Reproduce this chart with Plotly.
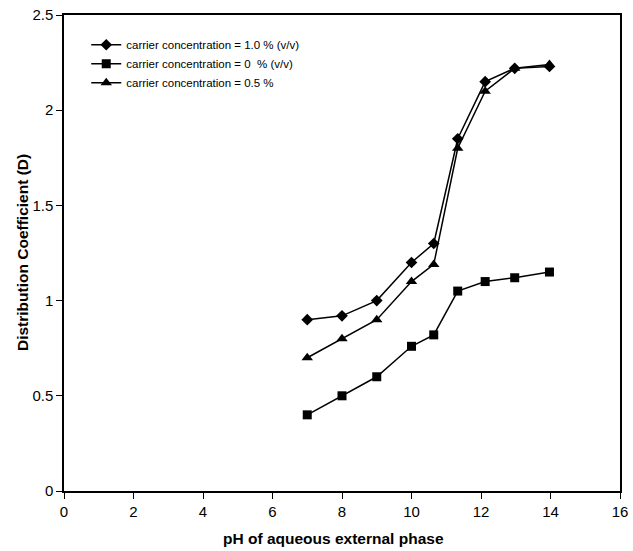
import plotly.graph_objects as go

ph = [7, 8, 9, 10, 10.64, 11.33, 12.12, 12.97, 13.97]
d_10 = [0.90, 0.92, 1.00, 1.20, 1.30, 1.85, 2.15, 2.22, 2.23]
d_0 = [0.40, 0.50, 0.60, 0.76, 0.82, 1.05, 1.10, 1.12, 1.15]
d_05 = [0.70, 0.80, 0.90, 1.10, 1.19, 1.80, 2.10, 2.22, 2.24]

names = ["carrier concentration = 1.0 % (v/v)",
         "carrier concentration = 0  % (v/v)",
         "carrier concentration = 0.5 %"]
series = [d_10, d_0, d_05]
symbols = ["diamond", "square", "triangle-up"]
sizes = [9, 9, 10]

fig = go.Figure()
for n, s, sym, sz in zip(names, series, symbols, sizes):
    fig.add_trace(go.Scatter(
        x=ph, y=s, name=n, mode="lines+markers",
        line=dict(color="black", width=1.5),
        marker=dict(symbol=sym, size=sz, color="black"),
    ))

axis_common = dict(
    showline=True, linecolor="black", linewidth=1.5, mirror=True,
    ticks="outside", ticklen=6, tickwidth=1.2, tickcolor="black",
    showgrid=False, zeroline=False, automargin=False,
    tickfont=dict(family="Liberation Sans, Arial", size=15, color="black"),
)

title_font = dict(family="Liberation Sans, Arial", size=15.5, color="black")

fig.update_layout(
    width=633, height=551,
    margin=dict(l=64, r=13, t=15, b=60),
    plot_bgcolor="white", paper_bgcolor="white",
    xaxis=dict(range=[0, 16], dtick=2, **axis_common),
    yaxis=dict(range=[0, 2.5], dtick=0.5, **axis_common),
    legend=dict(x=0.04, y=0.968, xanchor="left", yanchor="top",
                bgcolor="rgba(0,0,0,0)",
                font=dict(family="Liberation Sans, Arial", size=11.5, color="black"),
                tracegroupgap=0, itemwidth=30),
    showlegend=True,
    annotations=[
        dict(text="<b>pH of aqueous external phase</b>", xref="paper", yref="paper",
             x=0.485, y=-0.099, xanchor="center", yanchor="middle",
             showarrow=False, font=title_font),
        dict(text="<b>Distribution Coefficient (D)</b>", xref="paper", yref="paper",
             x=-0.0755, y=0.5, xanchor="center", yanchor="middle", textangle=-90,
             showarrow=False, font=title_font),
    ],
)

fig.write_html("out.html")
